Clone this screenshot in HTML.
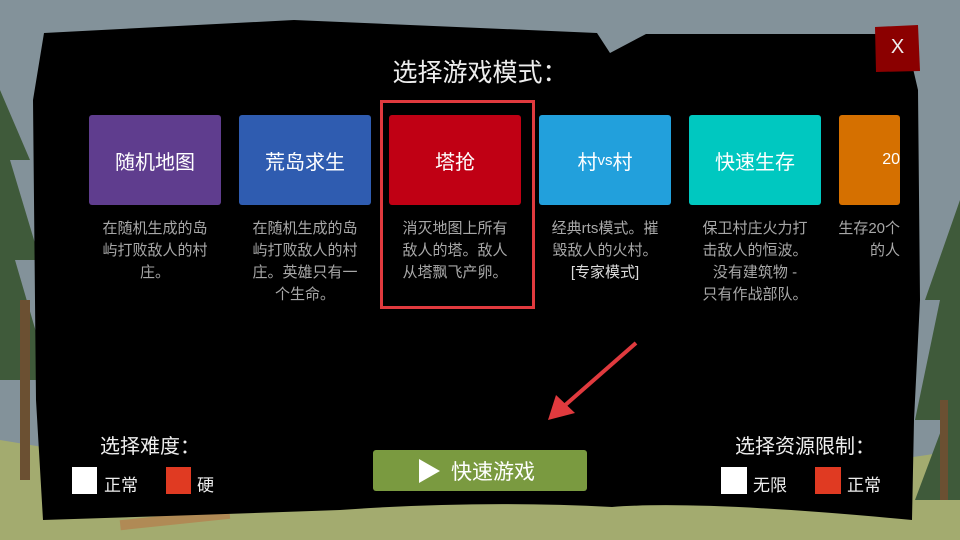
<!DOCTYPE html>
<html><head><meta charset="utf-8"><style>
body{margin:0;width:960px;height:540px;overflow:hidden;position:relative;font-family:"Liberation Sans","Noto Sans CJK SC",sans-serif;background:#7f8e96}
.a{position:absolute}
.card{position:absolute;top:115px;width:132px;height:90px;color:#fff;font-size:20px;display:flex;align-items:center;justify-content:center;border-radius:3px}
.desc{position:absolute;top:218px;width:140px;text-align:center;color:#a8a8a8;font-size:15px;line-height:22px}
.t{color:#eee;position:absolute}
</style></head><body>
<svg class="a" style="left:0;top:0" width="960" height="540">
<rect x="0" y="0" width="960" height="540" fill="#83929a"/>
<path d="M0 440 Q300 490 480 500 Q700 490 960 450 L960 540 L0 540Z" fill="#a3ab6f"/>
<g fill="#3f5a3a">
<polygon points="0,90 30,160 10,160 40,260 15,260 50,380 0,380"/>
<polygon points="960,200 925,300 940,300 915,420 945,420 915,500 960,500"/>
</g>
<rect x="20" y="300" width="10" height="180" fill="#6b5032"/>
<rect x="940" y="400" width="8" height="100" fill="#6b5032"/>
<rect x="120" y="515" width="110" height="10" fill="#b08a55" transform="rotate(-6 170 520)"/>
<path d="M44 33 L294 20 L597 33 L610 53 L646 34 L905 34 L918 90 L920 300 L914 420 L912 520 Q700 500 612 507 Q480 500 340 510 Q200 515 43 520 L36 400 L33 100 Z" fill="#000"/>
<path d="M875 27 L918 25 L920 71 L876 72 Z" fill="#8b0000"/>
<line x1="636" y1="343" x2="563" y2="407" stroke="#e03a3e" stroke-width="4"/>
<polygon points="548,420 556,395 575,413" fill="#e03a3e"/>
</svg>
<div class="t" style="left:875px;top:36px;width:45px;text-align:center;font-size:20px">X</div>
<div class="t" style="left:330px;top:53px;width:300px;text-align:center;font-size:25px">选择游戏模式：</div>
<div class="card" style="left:89px;background:#5f3d8e">随机地图</div>
<div class="card" style="left:239px;background:#2f5cb0">荒岛求生</div>
<div class="card" style="left:389px;background:#c00014">塔抢</div>
<div class="card" style="left:539px;background:#22a0dc">村<span style="font-size:15px">vs</span>村</div>
<div class="card" style="left:689px;background:#00c8c0">快速生存</div>
<div class="card" style="left:839px;width:61px;background:#d57000;justify-content:flex-end;overflow:hidden;white-space:nowrap;font-size:16px">20</div>
<div class="desc" style="left:85px">在随机生成的岛<br>屿打败敌人的村<br>庄。</div>
<div class="desc" style="left:235px">在随机生成的岛<br>屿打败敌人的村<br>庄。英雄只有一<br>个生命。</div>
<div class="desc" style="left:385px">消灭地图上所有<br>敌人的塔。敌人<br>从塔飘飞产卵。</div>
<div class="desc" style="left:535px">经典rts模式。摧<br>毁敌人的火村。<br><span style="color:#ddd">[专家模式]</span></div>
<div class="desc" style="left:685px">保卫村庄火力打<br>击敌人的恒波。<br>没有建筑物 -<br>只有作战部队。</div>
<div class="desc" style="left:835px;width:65px;overflow:hidden;white-space:nowrap;text-align:right">生存20个<br>的人</div>
<div class="a" style="left:380px;top:100px;width:149px;height:203px;border:3px solid #e03a3e"></div>
<div class="t" style="left:70px;top:430px;width:160px;text-align:center;font-size:20px">选择难度：</div>
<div class="a" style="left:72px;top:467px;width:25px;height:27px;background:#fff"></div>
<div class="t" style="left:104px;top:471px;font-size:17px">正常</div>
<div class="a" style="left:166px;top:467px;width:25px;height:27px;background:#e03a22"></div>
<div class="t" style="left:197px;top:471px;font-size:17px">硬</div>
<div class="a" style="left:373px;top:450px;width:214px;height:41px;background:#7a9a40;border-radius:3px"></div>
<svg class="a" style="left:419px;top:459px" width="22" height="24"><polygon points="0,0 21,12 0,24" fill="#fff"/></svg>
<div class="t" style="left:451px;top:456px;font-size:21px;color:#fff">快速游戏</div>
<div class="t" style="left:715px;top:430px;width:180px;text-align:center;font-size:20px">选择资源限制：</div>
<div class="a" style="left:721px;top:467px;width:26px;height:27px;background:#fff"></div>
<div class="t" style="left:753px;top:471px;font-size:17px">无限</div>
<div class="a" style="left:815px;top:467px;width:26px;height:27px;background:#e03a22"></div>
<div class="t" style="left:847px;top:471px;font-size:17px">正常</div>
</body></html>
